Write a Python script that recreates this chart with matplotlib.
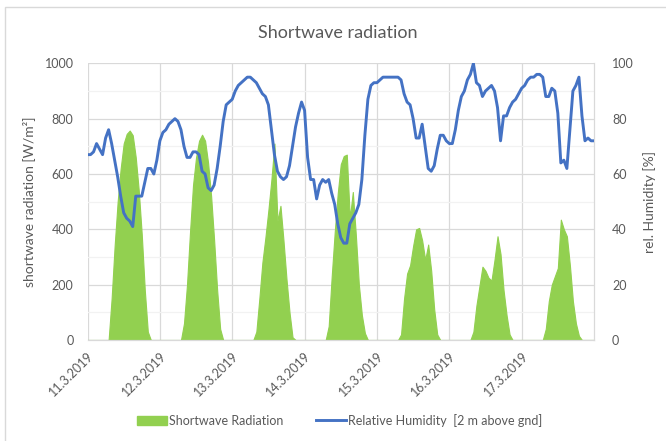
import numpy as np
import pandas as pd
import matplotlib
matplotlib.use("Agg")
import matplotlib.pyplot as plt
from matplotlib.patches import Patch, Rectangle
from matplotlib.lines import Line2D

plt.rcParams['font.family'] = ['Lato', 'DejaVu Sans']

# hourly values, one list per day (11.3. - 17.3.2019)
rad_11 = [0, 0, 0, 0, 0, 0, 0, 0, 150, 340, 500, 620, 710, 745, 757, 740, 660, 540, 380, 180, 30, 0, 0, 0]
rad_12 = [0, 0, 0, 0, 0, 0, 0, 0, 60, 200, 390, 560, 660, 720, 742, 720, 640, 520, 360, 180, 40, 0, 0, 0]
rad_13 = [0, 0, 0, 0, 0, 0, 0, 0, 30, 150, 280, 370, 470, 580, 710, 430, 485, 360, 220, 100, 10, 0, 0, 0]
rad_14 = [0, 0, 0, 0, 0, 0, 0, 0, 50, 230, 390, 530, 635, 665, 670, 440, 535, 380, 200, 90, 25, 0, 0, 0]
rad_15 = [0, 0, 0, 0, 0, 0, 0, 0, 20, 150, 240, 270, 340, 400, 405, 360, 290, 345, 250, 110, 20, 0, 0, 0]
rad_16 = [0, 0, 0, 0, 0, 0, 0, 0, 30, 125, 195, 265, 250, 225, 215, 290, 375, 310, 180, 90, 20, 0, 0, 0]
rad_17 = [0, 0, 0, 0, 0, 0, 0, 0, 40, 140, 200, 230, 260, 435, 400, 375, 270, 140, 60, 15, 0, 0, 0, 0]
rad_end = [0]

hum_11 = [67, 67, 68, 71, 69, 67, 73, 76, 71, 65, 59, 52, 46, 44, 43, 41, 52, 52, 52, 57, 62, 62, 60, 65]
hum_12 = [72, 75, 76, 78, 79, 80, 79, 76, 70, 66, 66, 68, 68, 67, 61, 60, 55, 54, 56, 62, 70, 79, 85, 86]
hum_13 = [87, 90, 92, 93, 94, 95, 95, 94, 93, 91, 89, 88, 85, 76, 67, 61, 59, 58, 59, 63, 70, 77, 82, 86]
hum_14 = [83, 66, 58, 58, 51, 56, 58, 57, 58, 53, 49, 42, 37, 35, 35, 42, 44, 46, 49, 58, 74, 87, 92, 93]
hum_15 = [93, 94, 95, 95, 95, 95, 95, 95, 94, 89, 86, 85, 80, 73, 73, 78, 70, 62, 61, 63, 69, 74, 74, 72]
hum_16 = [71, 71, 76, 83, 88, 90, 94, 96, 100, 93, 92, 88, 90, 91, 92, 90, 84, 72, 81, 81, 84, 86, 87, 89]
hum_17 = [91, 92, 94, 95, 95, 96, 96, 95, 88, 88, 91, 90, 82, 64, 65, 62, 76, 90, 92, 95, 81, 72, 73, 72]
hum_end = [72]

day_labels = ["11.3.2019", "12.3.2019", "13.3.2019", "14.3.2019", "15.3.2019", "16.3.2019", "17.3.2019"]

radiation = rad_11 + rad_12 + rad_13 + rad_14 + rad_15 + rad_16 + rad_17 + rad_end
humidity = hum_11 + hum_12 + hum_13 + hum_14 + hum_15 + hum_16 + hum_17 + hum_end
times = pd.date_range("2019-03-11", periods=len(radiation), freq="h")
days = pd.date_range("2019-03-11", periods=8, freq="D")

green = "#92D050"
blue = "#4472C4"
txt = "#595959"
grid = "#D9D9D9"

fig = plt.figure(figsize=(6.66, 4.41), dpi=100)
ax = fig.add_axes([0.1314, 0.229, 0.7605, 0.6274])
ax2 = ax.twinx()

ax.fill_between(times, radiation, 0, color=green, lw=0.8, ec=green, zorder=2)
ax2.plot(times, humidity, color=blue, lw=2.1, zorder=3)

ax.set_ylim(0, 1000)
ax2.set_ylim(0, 100)
ax.set_xlim(days[0], days[-1])
ax.set_yticks(np.arange(0, 1001, 200))
ax.set_yticks(np.arange(100, 1000, 200), minor=True)
ax2.set_yticks(np.arange(0, 101, 20))
ax.set_xticks(days[:7])
ax.set_xticklabels(day_labels, rotation=45, ha="right", va="top", rotation_mode="anchor")

ax.grid(axis="y", which="major", color=grid, lw=0.9, zorder=0)
ax.grid(axis="y", which="minor", color="#F2F2F2", lw=0.9, zorder=0)
ax.grid(axis="x", which="major", color=grid, lw=0.9, zorder=0)
ax.set_axisbelow(True)

for a in (ax, ax2):
    for s in ("top", "left"):
        a.spines[s].set_visible(False)
    a.spines["right"].set_color(grid)
    a.spines["bottom"].set_color(grid)
    a.tick_params(which="both", length=0, colors=txt, labelsize=9)
ax.tick_params(axis="y", pad=10)
ax.tick_params(axis="x", pad=7)
ax2.tick_params(axis="y", pad=13)

ax.set_ylabel("shortwave radiation [W/m²]", color=txt, fontsize=10)
ax.yaxis.set_label_coords(-0.104, 0.5)
ax2.set_ylabel("rel. Humidity [%]", color=txt, fontsize=10)
ax2.yaxis.set_label_coords(1.097, 0.5)

fig.text(0.507, 0.925, "Shortwave radiation", ha="center", va="center", fontsize=13, color=txt)

handles = [Patch(color=green), Line2D([0], [0], color=blue, lw=2.1)]
fig.legend(handles, ["Shortwave Radiation", "Relative Humidity  [2 m above gnd]"],
           loc="center", bbox_to_anchor=(0.51, 0.047), ncol=2, frameon=False,
           fontsize=9, labelcolor=txt, handlelength=2.4, handletextpad=0.2, columnspacing=2.6)

# chart area border (cut off at right and bottom in the original)
fig.patches.append(Rectangle((5 / 666, -0.5), 2, 0.5 + 1 - 7 / 441, transform=fig.transFigure,
                             fill=False, ec=grid, lw=1))

fig.savefig("out.png", dpi=100)
